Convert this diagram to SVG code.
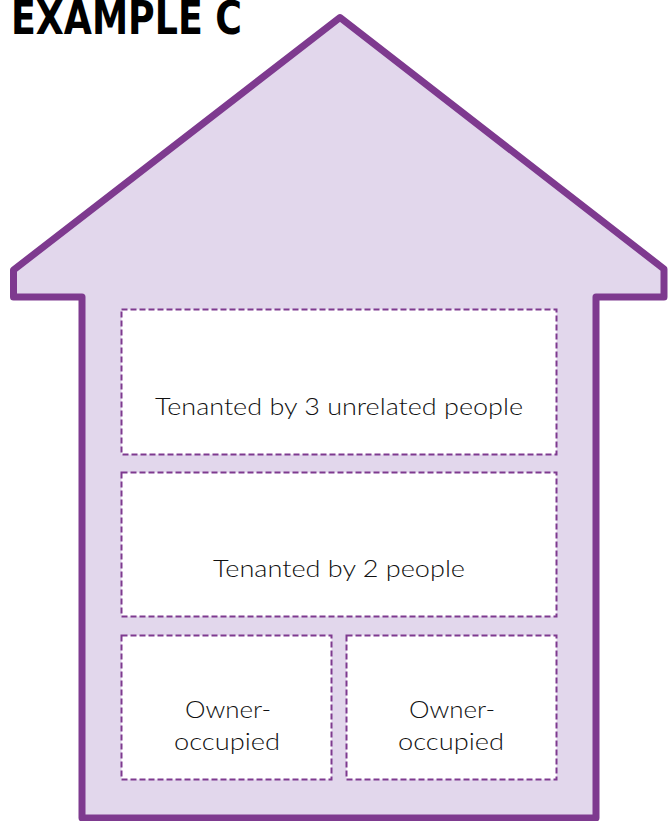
<svg xmlns="http://www.w3.org/2000/svg" width="668" height="821" viewBox="0 0 668 821">
<style>
.house{fill:#e2d7ec;stroke:#7e3a8f;stroke-width:7;stroke-linejoin:round}
.room{fill:#ffffff;stroke:#7e3a8f;stroke-width:2;stroke-dasharray:6 3}
.lbl{font-family:Lato,"Open Sans","Liberation Sans",sans-serif;font-weight:300;font-size:23px;fill:#111;text-anchor:middle}
.title{font-family:"Liberation Sans Narrow","DejaVu Sans Condensed","Liberation Sans",sans-serif;font-weight:bold;font-size:46px;fill:#000}
</style>
<rect width="668" height="821" fill="#ffffff"/>
<text class="title" x="11" y="34" textLength="231" lengthAdjust="spacingAndGlyphs">EXAMPLE C</text>
<g id="house">
<path class="house" d="M82,818 L82,297 L13.5,297 L13.5,270 L340,17.5 L664,269 L664,297 L596,297 L596,818 Z"/>
</g>
<g id="room1">
<rect class="room" x="121.5" y="309.5" width="435" height="145"/>
<text class="lbl" x="339" y="415" textLength="368" lengthAdjust="spacingAndGlyphs">Tenanted by 3 unrelated people</text>
</g>
<g id="room2">
<rect class="room" x="121.5" y="472.5" width="435" height="144"/>
<text class="lbl" x="339" y="577" textLength="252" lengthAdjust="spacingAndGlyphs">Tenanted by 2 people</text>
</g>
<g id="room3">
<rect class="room" x="121.5" y="635.5" width="210" height="144"/>
<text class="lbl" x="228" y="718" textLength="86" lengthAdjust="spacingAndGlyphs">Owner-</text>
<text class="lbl" x="227" y="750" textLength="106" lengthAdjust="spacingAndGlyphs">occupied</text>
</g>
<g id="room4">
<rect class="room" x="346.5" y="635.5" width="210" height="144"/>
<text class="lbl" x="452" y="718" textLength="86" lengthAdjust="spacingAndGlyphs">Owner-</text>
<text class="lbl" x="451" y="750" textLength="106" lengthAdjust="spacingAndGlyphs">occupied</text>
</g>
<g id="connectors"></g>
</svg>
